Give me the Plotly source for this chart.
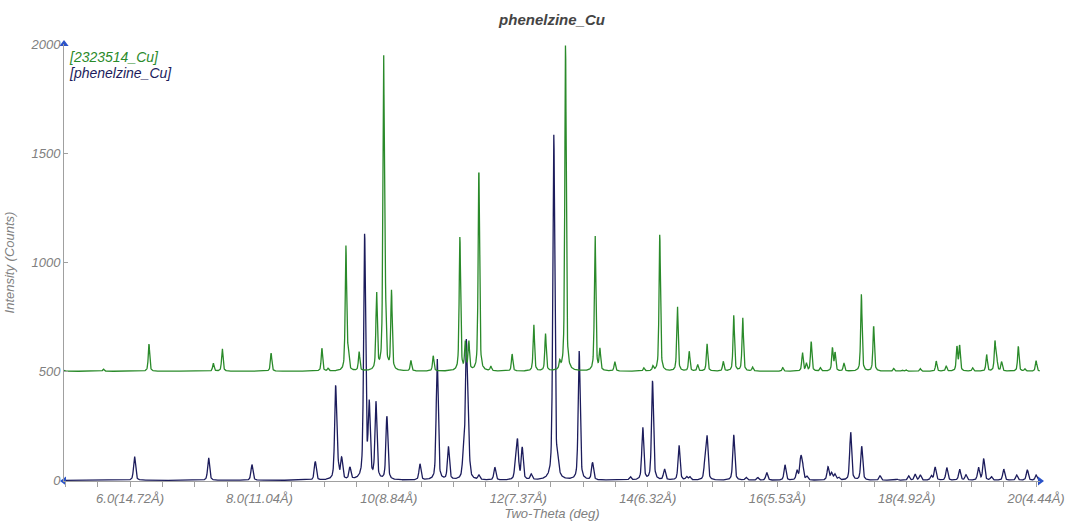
import numpy as np
import plotly.graph_objects as go

# ---------------- data ----------------
title_text = "phenelzine_Cu"
series_names = ["[2323514_Cu]", "[phenelzine_Cu]"]
green_offset = 500  # reference pattern plotted with a +500 count offset

# peak positions (2-theta, deg) and intensities (counts) of 2323514_Cu
green_pos = [4.95, 5.59, 6.293, 7.287, 7.426, 8.18, 8.965, 9.06, 9.336, 9.37, 9.54,
             9.81, 9.918, 9.945, 10.04, 10.34, 10.685, 11.097, 11.18, 11.235, 11.39,
             11.575, 11.904, 12.239, 12.42, 12.64, 12.729, 13.186, 13.26, 13.49,
             13.94, 14.08, 14.185, 14.458, 14.64, 14.77, 14.916, 15.166, 15.328,
             15.467, 15.62, 16.085, 16.39, 16.45, 16.525, 16.667, 16.853, 16.894,
             17.03, 17.30, 17.49, 17.80, 17.93, 17.99, 18.21, 18.457, 18.61, 18.777,
             18.818, 19.02, 19.235, 19.364, 19.39, 19.467, 19.725, 19.826, 20.0]
green_int = [40, 10, 125, 37, 105, 83, 105, 12, 570, 70, 87,
             355, 1430, 260, 360, 48, 70, 615, 125, 130, 925,
             20, 78, 212, 170, 35, 1500, 630, 95, 44,
             14, 20, 628, 300, 90, 30, 125, 45, 255,
             245, 18, 16, 85, 35, 135, 15, 105, 82,
             38, 352, 206, 12, 6, 6, 12, 46, 25, 110,
             115, 15, 76, 132, 55, 42, 114, 10, 48]

# peak positions and intensities of phenelzine_Cu
navy_pos = [6.07, 7.215, 7.884, 8.862, 9.177, 9.21, 9.27, 9.398, 9.625, 9.696, 9.80,
            9.969, 10.48, 10.746, 10.92, 11.15, 11.195, 11.225, 11.39, 11.637, 11.96,
            11.988, 12.06, 12.2, 12.548, 12.61, 12.94, 13.146, 13.73, 13.923, 14.073,
            14.258, 14.483, 14.6, 14.65, 14.885, 14.916, 15.328, 15.52, 15.70, 15.838,
            16.12, 16.306, 16.363, 16.39, 16.46, 16.785, 16.84, 16.89, 16.95, 17.135,
            17.305, 17.588, 17.85, 18.03, 18.13, 18.21, 18.38, 18.44, 18.62, 18.818,
            18.916, 19.11, 19.19, 19.31, 19.50, 19.70, 19.864, 20.0]
navy_int = [110, 103, 72, 86, 425, 55, 95, 55, 1120, 330, 350,
            290, 73, 560, 150, 90, 590, 230, 20, 58, 100,
            160, 145, 25, 1580, 75, 590, 80, 15, 240, 455,
            50, 160, 14, 14, 85, 190, 208, 12, 12, 36,
            70, 42, 95, 65, 15, 60, 32, 26, 12, 220,
            155, 20, 5, 20, 28, 24, 20, 60, 58, 51,
            24, 58, 97, 15, 51, 24, 48, 24]

x_tick_vals = [6, 8, 10, 12, 14, 16, 18, 20]
x_tick_text = ["6.0(14.72Å)", "8.0(11.04Å)", "10(8.84Å)", "12(7.37Å)",
               "14(6.32Å)", "16(5.53Å)", "18(4.92Å)", "20(4.44Å)"]
y_tick_vals = [0, 500, 1000, 1500, 2000]
x_title = "Two-Theta (deg)"
y_title = "Intensity (Counts)"

# ---------------- build profiles from peak list ----------------
two_theta = np.arange(4.98, 20.06, 0.004)


def profile(pos, inten, fwhm, eta):
    y = np.zeros_like(two_theta)
    hw = fwhm / 2.0
    sig = fwhm / 2.3548
    for p, h in zip(pos, inten):
        d = two_theta - p
        lor = 1.0 / (1.0 + (d / hw) ** 2)
        gau = np.exp(-0.5 * (d / sig) ** 2)
        y += h * (eta * lor + (1 - eta) * gau)
    return y


green_y = profile(green_pos, green_int, 0.026, 0.6) + green_offset
navy_y = profile(navy_pos, navy_int, 0.036, 0.5)

GREEN = "#2a8a2a"
NAVY = "#1c1c5c"
GRAY = "#808080"
BLUE = "#2a52c8"

fig = go.Figure()
fig.add_trace(go.Scatter(x=two_theta, y=navy_y, mode="lines",
                         line=dict(color=NAVY, width=1.3), name=series_names[1],
                         showlegend=False, hoverinfo="skip"))
fig.add_trace(go.Scatter(x=two_theta, y=green_y, mode="lines",
                         line=dict(color=GREEN, width=1.3), name=series_names[0],
                         showlegend=False, hoverinfo="skip"))

x_min, x_max = 4.98, 20.06
y_min, y_max = -3, 2000

# axis-end arrows
fig.add_trace(go.Scatter(x=[x_min], y=[y_max], mode="markers",
                         marker=dict(symbol="triangle-up", size=8, color=BLUE),
                         cliponaxis=False, showlegend=False, hoverinfo="skip"))
fig.add_trace(go.Scatter(x=[x_max], y=[y_min], mode="markers",
                         marker=dict(symbol="triangle-right", size=8, color=BLUE),
                         cliponaxis=False, showlegend=False, hoverinfo="skip"))
fig.add_trace(go.Scatter(x=[x_min], y=[y_min], mode="markers",
                         marker=dict(symbol="triangle-left", size=8, color=BLUE),
                         cliponaxis=False, showlegend=False, hoverinfo="skip"))

# x ticks: every 0.5 deg, labels on the even integers
all_ticks = list(np.arange(5.0, 20.01, 0.5))
all_text = []
for t in all_ticks:
    match = [lbl for v, lbl in zip(x_tick_vals, x_tick_text) if abs(v - t) < 1e-6]
    all_text.append(match[0] if match else "")

font_family = "Liberation Sans, Arial, sans-serif"

fig.update_layout(
    width=1067, height=521,
    margin=dict(l=64, r=27, t=44, b=40, autoexpand=False),
    paper_bgcolor="white", plot_bgcolor="white",
    font=dict(family=font_family, color=GRAY, size=12),
    title=dict(text="<b><i>" + title_text + "</i></b>", xref="paper", x=0.5,
               xanchor="center", yref="container", y=0.962, yanchor="middle",
               font=dict(size=15, color="#444444", family=font_family)),
    xaxis=dict(range=[x_min, x_max], showgrid=False, zeroline=False, automargin=False,
               showline=True, linecolor="#a0a0a0", linewidth=1,
               tickmode="array", tickvals=all_ticks, ticktext=all_text,
               ticks="outside", ticklen=5, tickcolor="#a0a0a0",
               ticklabeloverflow="allow",
               tickfont=dict(size=13, color=GRAY, family=font_family, style="italic"),
               title=dict(text="<i>" + x_title + "</i>", standoff=10,
                          font=dict(size=13, color=GRAY))),
    yaxis=dict(range=[y_min, y_max], showgrid=False, zeroline=False, automargin=False,
               showline=True, linecolor="#a0a0a0", linewidth=1,
               tickmode="array", tickvals=y_tick_vals,
               ticks="inside", ticklen=4, tickcolor="#a0a0a0",
               tickfont=dict(size=13, color=GRAY, family=font_family, style="italic"),
               title=dict(text="<i>" + y_title + "</i>", standoff=12,
                          font=dict(size=13, color=GRAY))),
)

fig.add_annotation(xref="paper", yref="paper", x=0.003, y=0.970, xanchor="left",
                   yanchor="middle", showarrow=False,
                   text="<i>" + series_names[0] + "</i>",
                   font=dict(size=14, color=GREEN, family=font_family))
fig.add_annotation(xref="paper", yref="paper", x=0.003, y=0.934, xanchor="left",
                   yanchor="middle", showarrow=False,
                   text="<i>" + series_names[1] + "</i>",
                   font=dict(size=14, color=NAVY, family=font_family))

# remove the browser's default 8px body margin so the figure fills the window
fig.write_html("out.html",
               config={"displayModeBar": False},
               post_script="document.body.style.margin='0';"
                           "document.body.style.overflow='hidden';")
